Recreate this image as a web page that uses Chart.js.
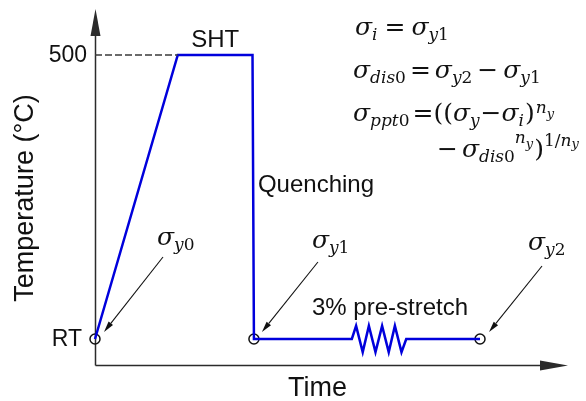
<!DOCTYPE html>
<html>
<head>
<meta charset="utf-8">
<script src="https://cdn.jsdelivr.net/npm/chart.js@4/dist/chart.umd.min.js"></script>
<style>
  html, body { margin: 0; padding: 0; background: #fff; }
  #wrap { width: 586px; height: 401px; }
</style>
</head>
<body>
<div id="wrap"><canvas id="c" width="586" height="401"></canvas></div>
<script>
// Heat-treatment path: time (arbitrary units) against temperature (°C).
// The short saw-tooth run stands for the 3% pre-stretch applied at room temperature.
const timeVals = [0, 17.5, 33.3, 33.6, 54.3, 55.2, 56.6, 57.9, 59.3, 60.7, 62.1, 63.4, 64.8, 65.8, 81.4];
const tempVals = [25, 500, 500, 25, 25, 47, 3, 47, 3, 47, 3, 47, 3, 25, 25];

// Yield-strength measuring points
const markerTime = [0, 33.6, 81.4];
const markerTemp = [25, 25, 25];
const markerSubs = ['y0', 'y1', 'y2'];

// Solution heat treatment hold, shown by a dashed guide to the axis
const holdTemp = 500;
const holdStart = 17.5;

// Temperature axis labels
const yTickValues = [25, 500];
const yTickLabels = ['RT', '500'];

const stageLabels = ['SHT', 'Quenching', '3% pre-stretch'];
const axisTitles = { x: 'Time', y: 'Temperature (°C)' };

const profile = timeVals.map((t, i) => ({ x: t, y: tempVals[i] }));
const markers = markerTime.map((t, i) => ({ x: t, y: markerTemp[i] }));
const guide = [{ x: 0, y: holdTemp }, { x: holdStart, y: holdTemp }];

const SANS = '"Liberation Sans", Arial, sans-serif';
const SERIF = '"DejaVu Serif", "Liberation Serif", serif';
const INK = '#111';
const AXIS = '#2b2b2b';

// Small math typesetter: a run of pieces drawn one after another.
// kinds: i = italic, r = upright, si/sr = subscript, pi/pr = superscript,
// pp = subscript of a superscript, g = horizontal gap (value in px)
const MATH = {
  i:  { size: 25, style: 'italic', dy: 0 },
  r:  { size: 25, style: 'normal', dy: 0 },
  si: { size: 17, style: 'italic', dy: 5 },
  sr: { size: 17, style: 'normal', dy: 5 },
  pi: { size: 17, style: 'italic', dy: -8 },
  pr: { size: 17, style: 'normal', dy: -11 },
  pp: { size: 13, style: 'italic', dy: -3 }
};
function mathRun(ctx, x, y, parts) {
  let cx = x;
  ctx.textAlign = 'left';
  ctx.textBaseline = 'alphabetic';
  for (const [txt, kind, dyExtra] of parts) {
    if (kind === 'g') { cx += txt; continue; }
    const k = MATH[kind];
    ctx.font = `${k.style} ${k.size}px ${SERIF}`;
    ctx.fillText(txt, cx, y + k.dy + (dyExtra || 0));
    cx += ctx.measureText(txt).width;
  }
  return cx;
}

function arrow(ctx, x1, y1, x2, y2, len, half) {
  const a = Math.atan2(y2 - y1, x2 - x1);
  const bx = x2 - len * Math.cos(a), by = y2 - len * Math.sin(a);
  ctx.beginPath();
  ctx.moveTo(x1, y1);
  ctx.lineTo(bx, by);
  ctx.stroke();
  ctx.beginPath();
  ctx.moveTo(x2, y2);
  ctx.lineTo(bx + half * Math.sin(a), by - half * Math.cos(a));
  ctx.lineTo(bx - half * Math.sin(a), by + half * Math.cos(a));
  ctx.closePath();
  ctx.fill();
}

const axesPlugin = {
  id: 'axesPlugin',
  beforeDatasetsDraw(chart) {
    const { ctx, chartArea: a } = chart;
    ctx.save();
    ctx.strokeStyle = AXIS;
    ctx.fillStyle = AXIS;
    ctx.lineWidth = 1.5;
    const x0 = a.left + 0.5, y0 = a.bottom + 0.5;
    // vertical axis with arrow head
    ctx.beginPath();
    ctx.moveTo(x0, y0);
    ctx.lineTo(x0, a.top + 20);
    ctx.stroke();
    ctx.beginPath();
    ctx.moveTo(x0, a.top - 1);
    ctx.lineTo(x0 - 5, a.top + 26);
    ctx.lineTo(x0 + 5, a.top + 26);
    ctx.closePath();
    ctx.fill();
    // horizontal axis with arrow head
    ctx.beginPath();
    ctx.moveTo(x0, y0);
    ctx.lineTo(a.right - 20, y0);
    ctx.stroke();
    ctx.beginPath();
    ctx.moveTo(a.right, y0);
    ctx.lineTo(a.right - 28, y0 - 5);
    ctx.lineTo(a.right - 28, y0 + 5);
    ctx.closePath();
    ctx.fill();
    ctx.restore();
  },
  afterDraw(chart) {
    const { ctx, chartArea: a, scales: { x, y } } = chart;
    ctx.save();
    ctx.fillStyle = INK;

    // temperature tick labels
    ctx.font = `23px ${SANS}`;
    ctx.textAlign = 'right';
    ctx.textBaseline = 'middle';
    yTickValues.forEach((v, i) => {
      const off = yTickLabels[i] === 'RT' ? 13 : 8;
      ctx.fillText(yTickLabels[i], a.left - off, y.getPixelForValue(v) + 1);
    });

    // axis titles
    ctx.font = `27px ${SANS}`;
    ctx.textAlign = 'left';
    ctx.textBaseline = 'alphabetic';
    ctx.fillText(axisTitles.x, 288, 396);
    ctx.save();
    ctx.translate(33, 198);
    ctx.rotate(-Math.PI / 2);
    ctx.textAlign = 'center';
    ctx.fillText(axisTitles.y, 0, 0);
    ctx.restore();

    // stage labels
    ctx.font = `24px ${SANS}`;
    ctx.textBaseline = 'middle';
    ctx.textAlign = 'center';
    const shtX = (x.getPixelForValue(timeVals[1]) + x.getPixelForValue(timeVals[2])) / 2;
    ctx.fillText(stageLabels[0], shtX, y.getPixelForValue(holdTemp) - 15);
    ctx.textAlign = 'left';
    ctx.fillText(stageLabels[1], x.getPixelForValue(timeVals[3]) + 4, 185);
    ctx.fillText(stageLabels[2], 312, y.getPixelForValue(25) - 31);

    // measuring-point callouts
    const callouts = [
      { lx: 62, ly: -94, fx: 68, fy: -82, tx: 9, ty: -7 },
      { lx: 58, ly: -91, fx: 64, fy: -77, tx: 8, ty: -7 },
      { lx: 48, ly: -89, fx: 62, fy: -73, tx: 9, ty: -7 }
    ];
    ctx.strokeStyle = INK;
    ctx.lineWidth = 1.1;
    markerTime.forEach((t, i) => {
      const px = x.getPixelForValue(t), py = y.getPixelForValue(markerTemp[i]);
      const c = callouts[i];
      arrow(ctx, px + c.fx, py + c.fy, px + c.tx, py + c.ty, 11, 2.8);
      const sub = markerSubs[i];
      mathRun(ctx, px + c.lx, py + c.ly, [['σ', 'i'], [sub[0], 'si'], [sub[1], 'sr']]);
    });

    // strength relations
    mathRun(ctx, 355, 35, [
      ['σ', 'i'], ['i', 'si'], [7, 'g'], ['=', 'r'], [6, 'g'],
      ['σ', 'i'], ['y', 'si'], ['1', 'sr']
    ]);
    mathRun(ctx, 353, 78, [
      ['σ', 'i'], ['dis', 'si'], ['0', 'sr'], [4, 'g'], ['=', 'r'], [4, 'g'],
      ['σ', 'i'], ['y', 'si'], ['2', 'sr'], [5, 'g'], ['−', 'r'], [5, 'g'],
      ['σ', 'i'], ['y', 'si'], ['1', 'sr']
    ]);
    mathRun(ctx, 353, 121, [
      ['σ', 'i'], ['ppt', 'si'], ['0', 'sr'], [3, 'g'], ['=', 'r'], ['((', 'r'],
      ['σ', 'i'], ['y', 'si'], [1, 'g'], ['−', 'r'], ['σ', 'i'], ['i', 'si'], [1, 'g'], [')', 'r'],
      [1, 'g'], ['n', 'pi'], ['y', 'pp']
    ]);
    mathRun(ctx, 437, 157, [
      ['−', 'r'], [4, 'g'], ['σ', 'i'], ['dis', 'si'], ['0', 'sr'],
      ['n', 'pi', -6], ['y', 'pp', -6], [1, 'g'], [')', 'r'],
      ['1/', 'pr'], ['n', 'pi', -3], ['y', 'pp', -6]
    ]);

    ctx.restore();
  }
};

new Chart(document.getElementById('c'), {
  type: 'scatter',
  data: {
    datasets: [
      {
        data: guide, showLine: true, pointRadius: 0, clip: false,
        borderColor: '#3a3a3a', borderWidth: 1.5, borderDash: [7, 3]
      },
      {
        data: profile, showLine: true, pointRadius: 0, clip: false, tension: 0,
        borderColor: '#0000dc', borderWidth: 2.5, borderJoinStyle: 'miter'
      },
      {
        data: markers, showLine: false, clip: false,
        pointRadius: 5, pointBorderWidth: 1.5,
        pointBorderColor: INK, pointBackgroundColor: 'rgba(0,0,0,0)'
      }
    ]
  },
  options: {
    responsive: false,
    animation: false,
    devicePixelRatio: 1,
    layout: { padding: { left: 95, right: 18, top: 10, bottom: 36 } },
    scales: {
      x: { type: 'linear', display: false, min: 0, max: 100 },
      y: { type: 'linear', display: false, min: -18.5, max: 575.3 }
    },
    plugins: { legend: { display: false }, tooltip: { enabled: false } }
  },
  plugins: [axesPlugin]
});
</script>
</body>
</html>
